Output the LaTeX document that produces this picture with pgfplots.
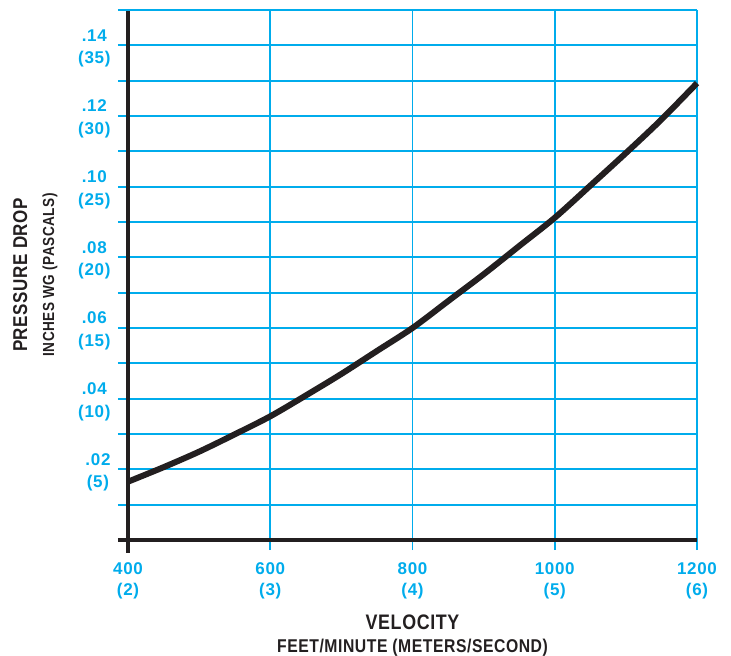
\documentclass[border=0pt]{standalone}
\usepackage{fontspec}
\setmainfont{Liberation Sans}
\newfontfamily\labfont{Liberation Sans}[FakeStretch=0.85, LetterSpace=3]
\newfontfamily\tickfont{Liberation Sans}[LetterSpace=4]
\usepackage{pgfplots}
\pgfplotsset{compat=1.18}
\definecolor{gridcyan}{RGB}{0,172,236}
\definecolor{ink}{RGB}{35,31,32}

\begin{document}
\begin{tikzpicture}
\begin{axis}[
    name=ax,
    scale only axis, width=569pt, height=530pt,
    xmin=400, xmax=1200, ymin=0, ymax=0.15,
    xtick={400,600,800,1000,1200},
    xticklabels={{400\\(2)},{600\\(3)},{800\\(4)},{1000\\(5)},{1200\\(6)}},
    ytick={0.02,0.04,0.06,0.08,0.10,0.12,0.14},
    yticklabels={{.02\\(5)},{.04\\(10)},{.06\\(15)},{.08\\(20)},{.10\\(25)},{.12\\(30)},{.14\\(35)}},
    minor ytick={0.01,0.03,0.05,0.07,0.09,0.11,0.13,0.15},
    grid=both,
    major grid style={gridcyan, line width=1.8pt},
    minor grid style={gridcyan, line width=1.8pt},
    tick style={draw=gridcyan, line width=1.8pt},
    tick align=outside, tick pos=left,
    major tick length=10pt, minor tick length=10pt,
    axis line style={draw=none},
    ticklabel style={text=gridcyan, align=center},
    xticklabel style={font=\tickfont\fontsize{17}{21}\selectfont\bfseries, yshift=-9pt},
    yticklabel style={font=\tickfont\fontsize{17}{22.5}\selectfont\bfseries, xshift=-4pt, yshift=-3pt},
    clip=false,
    xlabel={{\fontsize{21}{23}\selectfont VELOCITY}\\FEET/MINUTE (METERS/SECOND)},
    xlabel style={font=\labfont\bfseries\fontsize{18.5}{23}\selectfont, text=ink, align=center, at={(axis description cs:0.5,-0.135)}, anchor=north},
    ylabel={{\fontsize{20}{27}\selectfont PRESSURE DROP}\\INCHES WG (PASCALS)},
    ylabel style={font=\labfont\bfseries\fontsize{16}{27}\selectfont, text=ink, align=center, at={(axis description cs:-0.118,0.5)}, anchor=south},
]
\addplot[ink, line width=6pt, smooth] coordinates {
    (400,0.0165) (450,0.0206) (500,0.0250) (550,0.0299) (600,0.0350)
    (650,0.0409) (700,0.0470) (750,0.0535) (800,0.0600) (850,0.0676)
    (900,0.0752) (950,0.0832) (1000,0.0912) (1050,0.1003) (1100,0.1095)
    (1150,0.1190) (1200,0.1293)
};
\draw[ink, line width=3.5pt] ([yshift=-1pt]axis cs:400,0.15) -- ([yshift=-13pt]axis cs:400,0);
\draw[ink, line width=3.5pt] ([xshift=-10pt]axis cs:400,0) -- (axis cs:1200,0);
\end{axis}
\pgfresetboundingbox
\path (ax.south west) ++(-128pt,-116pt) rectangle ++(731pt,656pt);
\end{tikzpicture}
\end{document}
